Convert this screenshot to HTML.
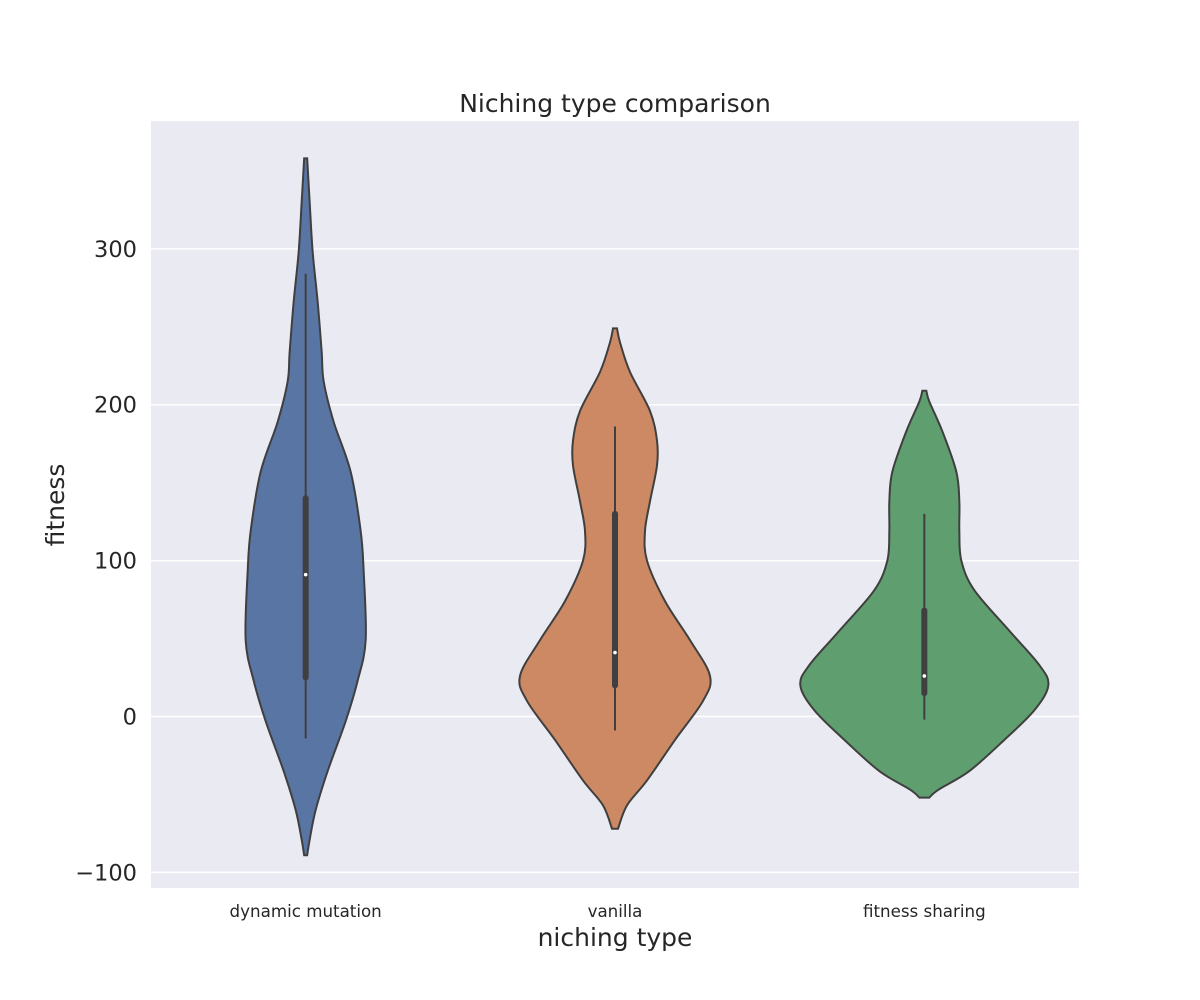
<!DOCTYPE html>
<html><head><meta charset="utf-8"><style>
body{margin:0;background:#fff;}
svg{display:block;font-family:"DejaVu Sans","Liberation Sans",sans-serif;}
</style></head><body>
<svg id="chart" width="1200" height="1000">
<rect x="151" y="121" width="928" height="767" fill="#eaeaf2"/>
<g id="grid"></g>
<g id="violins"></g>
<g id="yticks"></g>
<g id="xticks"></g>
<text x="615" y="112" text-anchor="middle" font-size="25" fill="#262626">Niching type comparison</text>
<text x="615" y="946" text-anchor="middle" font-size="25" fill="#262626">niching type</text>
<text x="64" y="505" text-anchor="middle" font-size="25" fill="#262626" transform="rotate(-90 64 505)">fitness</text>
</svg>
<script>
const categories = ["dynamic mutation","vanilla","fitness sharing"];
const colors = ["#5975a4","#cc8963","#5f9e6e"];
const yTicks = [-100,0,100,200,300];
// violin profile: values (fitness) and half-width (px)
const v1Vals = [358,330,298,266,234,215,189,157,119,93,49,23,-3,-35,-60,-79,-89];
const v1W    = [1.5,4,7,12,16,18,28,45,55,58,60,52,40,22,10,4,1.5];
const v2Vals = [249,240,221,196,177,161,138,119,100,74,49,26,10,-15,-41,-57,-72];
const v2W    = [2,5,15,35,42,42,35,30,32,50,75,95,88,60,32,12,3];
const v3Vals = [209,202,183,157,138,119,100,81,55,33,20,4,-15,-35,-47,-52];
const v3W    = [2,5,18,32,35,35,37,50,85,115,124,110,80,45,14,5];
const vVals = [v1Vals,v2Vals,v3Vals];
const vHalfW = [v1W,v2W,v3W];
const q1 = [25,20,15];
const q3 = [140,130,68];
const med = [91,41,26];
const wLo = [-14,-9,-2];
const wHi = [284,186,130];

const NS="http://www.w3.org/2000/svg";
const plotL=151,plotR=1079,plotT=121,plotB=888;
const yMin=-110, yMax=382;
function y(v){return plotB-(v-yMin)/(yMax-yMin)*(plotB-plotT);}
function x(i){return plotL+(i+0.5)*(plotR-plotL)/categories.length;}
function mk(tag,attrs,parent){const e=document.createElementNS(NS,tag);for(const k in attrs)e.setAttribute(k,attrs[k]);parent.appendChild(e);return e;}

const grid=document.getElementById('grid'), yt=document.getElementById('yticks'), xt=document.getElementById('xticks'), vg=document.getElementById('violins');
yTicks.forEach(t=>{
  const l=mk('line',{x1:plotL,x2:plotR,y1:y(t),y2:y(t),stroke:'#fff','stroke-width':1.5},grid);
  
  
  const tx=mk('text',{x:137,y:y(t)+8,'text-anchor':'end','font-size':22.5,fill:'#262626'},yt);
  tx.textContent=t<0?'\u2212'+Math.abs(t):String(t);
  
  
});
function smooth(pts){
  let d='M'+pts[0][0]+','+pts[0][1];
  for(let i=0;i<pts.length-1;i++){
    const p0=pts[Math.max(0,i-1)],p1=pts[i],p2=pts[i+1],p3=pts[Math.min(pts.length-1,i+2)];
    const c1=[p1[0]+(p2[0]-p0[0])/6,p1[1]+(p2[1]-p0[1])/6];
    const c2=[p2[0]-(p3[0]-p1[0])/6,p2[1]-(p3[1]-p1[1])/6];
    d+=' C'+c1[0]+','+c1[1]+' '+c2[0]+','+c2[1]+' '+p2[0]+','+p2[1];
  }
  return d;
}
categories.forEach((c,i)=>{
  const cx=x(i);
  const right=vVals[i].map((v,k)=>[cx+vHalfW[i][k],y(v)]);
  const left=vVals[i].map((v,k)=>[cx-vHalfW[i][k],y(v)]).reverse();
  const d=smooth(right)+' '+smooth(left).replace(/^M/,'L')+' Z';
  const p=mk('path',{d:d,fill:colors[i],stroke:'#3f3f3f','stroke-width':2},vg);
  
  
  const w=mk('line',{x1:cx,x2:cx,y1:y(wHi[i]),y2:y(wLo[i]),stroke:'#3f3f3f','stroke-width':2},vg);
  
  
  const b=mk('line',{x1:cx,x2:cx,y1:y(q3[i]),y2:y(q1[i]),stroke:'#3f3f3f','stroke-width':6,'stroke-linecap':'round'},vg);
  
  
  const m=mk('circle',{cx:cx,cy:y(med[i]),r:1.8,fill:'#fff'},vg);
  
  
  const tx=mk('text',{x:cx,y:917,'text-anchor':'middle','font-size':16.7,fill:'#262626'},xt);
  tx.textContent=c;
  
  
});
</script>
</body></html>
